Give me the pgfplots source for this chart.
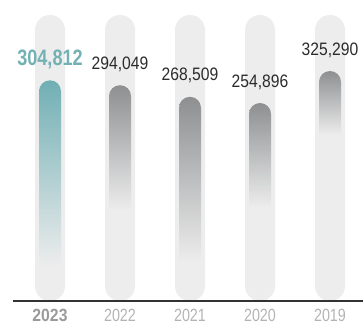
\documentclass[border=0pt]{standalone}
\usepackage{pgfplots}
\pgfplotsset{compat=1.18}
\usepackage{fontspec}
\setmainfont{Liberation Sans}
\newfontfamily\numfont{Liberation Sans}[FakeStretch=0.87]
\newfontfamily\bnumfont{Liberation Sans}[FakeStretch=0.81]
\newfontfamily\tickfont{Liberation Sans}[FakeStretch=0.81]
\newfontfamily\btickfont{Liberation Sans}[FakeStretch=0.89]
\definecolor{pill}{HTML}{EDEDED}
\definecolor{tealtop}{HTML}{70AFB4}
\definecolor{graytop}{HTML}{8D8F91}
\definecolor{teallab}{HTML}{74B1B5}
\definecolor{darklab}{HTML}{2B2B2B}
\definecolor{tickgray}{HTML}{B3B3B3}
\definecolor{tickbold}{HTML}{9A9A9A}
\definecolor{baseln}{HTML}{333333}
\pgfdeclareverticalshading{fadeA}{100bp}{color(0bp)=(pill); color(32.7bp)=(pill); color(75bp)=(tealtop); color(100bp)=(tealtop)}
\pgfdeclareverticalshading{fadeB}{100bp}{color(0bp)=(pill); color(46bp)=(pill); color(75bp)=(graytop); color(100bp)=(graytop)}
\pgfdeclareverticalshading{fadeC}{100bp}{color(0bp)=(pill); color(34.5bp)=(pill); color(75bp)=(graytop); color(100bp)=(graytop)}
\pgfdeclareverticalshading{fadeD}{100bp}{color(0bp)=(pill); color(48.6bp)=(pill); color(75bp)=(graytop); color(100bp)=(graytop)}
\pgfdeclareverticalshading{fadeE}{100bp}{color(0bp)=(pill); color(61.1bp)=(pill); color(75bp)=(graytop); color(100bp)=(graytop)}
\pgfplotsset{
  valbar/.style={ybar, bar width=22bp, bar shift=0pt, draw=none, shade, shading=#1,
    rounded corners=10.9bp, point meta=explicit, nodes near coords={\pgfmathprintnumber[fixed,precision=0,1000 sep={,},assume math mode=true]{\pgfplotspointmeta}},
    every node near coord/.append style={font=\numfont\fontsize{18bp}{20bp}\selectfont, text=darklab, anchor=base, yshift=16bp, inner sep=0pt}},
}
\begin{document}
\begin{tikzpicture}
\begin{axis}[name=ax, scale only axis, width=350bp, height=301bp,
  xmin=-0.5286, xmax=4.4714, ymin=39400, ymax=701600,
  y filter/.expression={y+220000},
  axis x line*=bottom, axis y line=none,
  x axis line style={draw=baseln, line width=2.2bp},
  xtick={0,1,2,3,4},
  xticklabels={{\btickfont\bfseries\color{tickbold}2023},2022,2021,2020,2019},
  major tick length=0pt, ytick=\empty,
  xticklabel style={anchor=base, yshift=-20.5bp, font=\tickfont\fontsize{17.7bp}{18bp}\selectfont, text=tickgray, inner sep=0pt, text depth=0pt},
  axis on top,
]
\addplot[ybar, bar width=30bp, bar shift=0pt, fill=pill, draw=none, rounded corners=14.9bp]
  coordinates {(0,448600) (1,448600) (2,448600) (3,448600) (4,448600)};
\addplot[valbar=fadeA, every node near coord/.append style={font=\bnumfont\bfseries\fontsize{22.3bp}{24bp}\selectfont, text=teallab, yshift=-1bp}]
  coordinates {(0,304812) [304812]};
\addplot[valbar=fadeB] coordinates {(1,294049) [294049]};
\addplot[valbar=fadeC] coordinates {(2,268509) [268509]};
\addplot[valbar=fadeD] coordinates {(3,254896) [254896]};
\addplot[valbar=fadeE] coordinates {(4,325290) [325290]};
\end{axis}
\pgfresetboundingbox
\path ([xshift=-13bp,yshift=-23bp]ax.south west) rectangle (ax.north east);
\end{tikzpicture}
\end{document}
